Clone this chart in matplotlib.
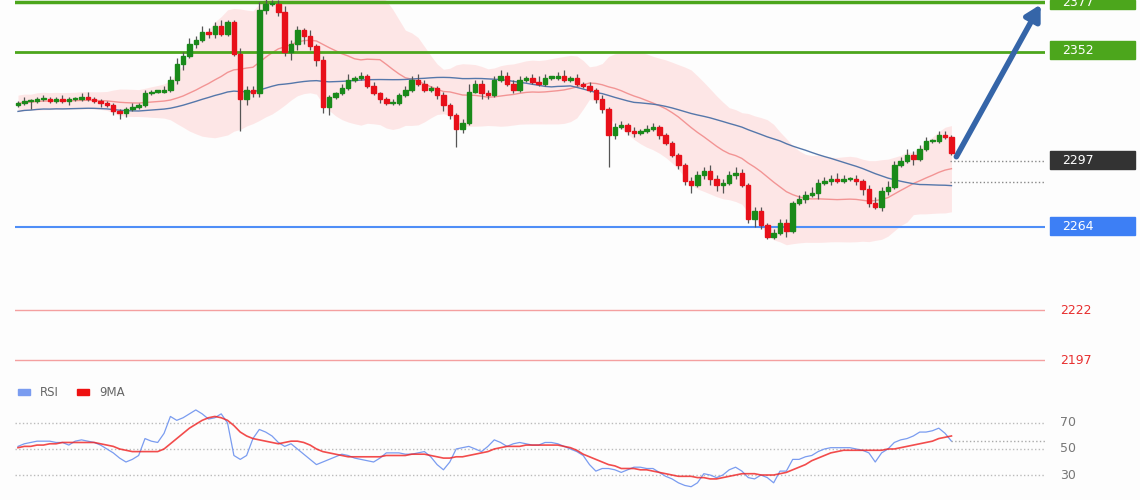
import numpy as np
import pandas as pd
import matplotlib
matplotlib.use('Agg')
import matplotlib.pyplot as plt

# candle closes (open = previous close)
closes = [
    2326, 2327, 2327, 2328, 2328, 2327, 2328, 2327, 2328, 2328,
    2329, 2328, 2327, 2326, 2325, 2322, 2321, 2323, 2324, 2325,
    2331, 2332, 2332, 2333, 2338, 2346, 2350, 2356, 2358, 2362,
    2361, 2365, 2361, 2367, 2351, 2328, 2333, 2331, 2373, 2376,
    2376, 2372, 2352, 2356, 2363, 2360, 2355, 2348, 2324, 2329,
    2331, 2334, 2338, 2339, 2340, 2335, 2331, 2328, 2326, 2326,
    2330, 2333, 2338, 2336, 2333, 2334, 2330, 2325, 2320, 2313,
    2316, 2332, 2336, 2331, 2330, 2338, 2340, 2336, 2333, 2338,
    2339, 2337, 2336, 2339, 2339, 2340, 2338, 2339, 2336, 2335,
    2333, 2328, 2323, 2310, 2314, 2315, 2312, 2311, 2312, 2313,
    2314, 2310, 2306, 2300, 2295, 2287, 2285, 2290, 2292, 2288,
    2285, 2286, 2290, 2291, 2285, 2268, 2272, 2265, 2259, 2261,
    2266, 2262, 2276, 2278, 2280, 2281, 2286, 2287, 2288, 2287,
    2288, 2288, 2287, 2283, 2276, 2274, 2282, 2284, 2295, 2297,
    2300, 2298, 2303, 2307, 2307, 2310, 2309, 2301,
]
upper_wick = [
    1, 2, 1, 1, 2, 1, 1, 2, 1, 1, 2, 3, 1, 1, 1, 1, 1, 1, 2, 1,
    2, 1, 1, 2, 2, 3, 2, 3, 2, 3, 2, 2, 3, 1, 1, 3, 2, 2, 4, 3,
    2, 2, 3, 2, 2, 1, 3, 1, 2, 1, 1, 2, 3, 1, 2, 1, 2, 1, 1, 2,
    1, 2, 2, 3, 2, 1, 1, 2, 1, 1, 2, 4, 2, 2, 2, 2, 3, 2, 2, 2,
    1, 2, 3, 2, 1, 2, 3, 1, 2, 1, 2, 1, 2, 1, 2, 2, 1, 2, 1, 2,
    2, 1, 1, 1, 1, 1, 2, 2, 2, 3, 2, 2, 2, 3, 2, 1, 2, 2, 1, 2,
    2, 2, 1, 2, 2, 3, 2, 2, 2, 3, 2, 1, 2, 1, 2, 3, 2, 3, 2, 2,
    3, 2, 2, 2, 1, 2, 2, 1,
]
lower_wick = [
    1, 1, 4, 1, 1, 1, 1, 1, 2, 1, 1, 1, 1, 2, 1, 2, 3, 2, 1, 1,
    1, 1, 1, 1, 1, 2, 3, 1, 2, 1, 2, 2, 1, 1, 1, 16, 3, 2, 2, 2,
    1, 2, 2, 4, 3, 4, 2, 3, 3, 4, 1, 1, 1, 1, 1, 1, 1, 2, 1, 1,
    1, 1, 1, 1, 1, 1, 2, 3, 2, 9, 2, 1, 1, 3, 2, 1, 1, 1, 2, 1,
    1, 1, 1, 1, 1, 1, 1, 1, 1, 1, 1, 2, 2, 16, 2, 1, 2, 2, 1, 1,
    1, 2, 1, 1, 2, 2, 4, 1, 2, 3, 3, 4, 1, 2, 1, 2, 4, 2, 1, 1,
    1, 3, 1, 1, 2, 1, 3, 1, 2, 1, 1, 1, 2, 3, 2, 1, 2, 2, 1, 1,
    1, 3, 1, 1, 1, 1, 1, 1,
]

# RSI and its 9-period MA, read per bar from the lower panel
rsi = [
    52, 54, 55, 56, 56, 56, 55, 55, 53, 56,
    57, 56, 55, 53, 50, 47, 43, 40, 42, 45,
    58, 56, 55, 62, 75, 72, 74, 77, 80, 77,
    73, 74, 77, 70, 45, 42, 45, 58, 65, 63,
    60, 55, 52, 54, 50, 46, 42, 38, 40, 42,
    44, 46, 45, 43, 42, 41, 40, 43, 47, 47,
    47, 46, 46, 47, 48, 44, 38, 34, 40, 50,
    51, 52, 50, 48, 52, 57, 55, 52, 54, 55,
    54, 53, 53, 55, 55, 54, 52, 50, 48, 45,
    38, 33, 35, 35, 34, 32, 34, 36, 36, 35,
    35, 32, 29, 27, 24, 22, 21, 24, 31, 30,
    28, 30, 34, 36, 33, 28, 27, 30, 28, 24,
    33, 33, 42, 42, 44, 45, 48, 50, 51, 51,
    51, 51, 50, 49, 47, 40, 47, 50, 55, 57,
    58, 60, 63, 63, 64, 66, 62, 56,
]
rsi_ma = [
    51, 52, 52, 53, 53, 54, 54, 55, 55, 55,
    55, 55, 55, 54, 53, 52, 50, 49, 48, 48,
    48, 48, 48, 50, 54, 58, 62, 66, 69, 72,
    74, 75, 74, 72, 68, 63, 60, 58, 57, 56,
    55, 54, 55, 56, 56, 55, 53, 50, 48, 47,
    46, 45, 44, 44, 44, 44, 44, 44, 45, 45,
    45, 45, 46, 46, 46, 45, 44, 43, 43, 44,
    44, 45, 46, 47, 48, 50, 51, 52, 52, 52,
    53, 53, 53, 53, 53, 53, 52, 51, 49, 46,
    44, 42, 40, 38, 37, 35, 35, 35, 34, 34,
    33, 32, 31, 30, 29, 29, 29, 28, 28, 27,
    27, 28, 29, 30, 31, 31, 31, 30, 30, 30,
    31, 32, 34, 36, 38, 41, 43, 45, 47, 48,
    49, 49, 49, 49, 49, 49, 49, 50, 50, 51,
    52, 53, 54, 55, 56, 58, 59, 60,
]

levels = [2377, 2352, 2297, 2264, 2222, 2197]
level_text = ['2377', '2352', '2297', '2264', '2222', '2197']
ma_level = 2286.5
rsi_ticks = [30, 50, 70]

df = pd.DataFrame({'close': closes})
df['open'] = df['close'].shift(1).fillna(df['close'][0] - 1)
df['high'] = df[['open', 'close']].max(axis=1) + upper_wick
df['low'] = df[['open', 'close']].min(axis=1) - lower_wick
ma20 = df['close'].rolling(20, min_periods=1).mean()
std20 = df['close'].rolling(20, min_periods=2).std().bfill()
ma50 = df['close'].rolling(50, min_periods=1).mean() - 4
bb_up = ma20 + 1.7 * std20 + 3
bb_dn = ma20 - 1.7 * std20 - 3

W, H = 1140, 500
fig = plt.figure(figsize=(11.4, 5), dpi=100)
fig.patch.set_facecolor('#fdfdfd')


def to_i(px):
    return (px - 18) / 6.35


xl = (to_i(15), to_i(1045))
ax = fig.add_axes([15 / W, 130 / H, 1030 / W, 370 / H])
ax.set_xlim(*xl)
ax.set_ylim(2192, 2378)
ax.axis('off')

x = np.arange(len(df))
ax.fill_between(x, bb_dn, bb_up, color='#ffcccc', alpha=0.45, lw=0, zorder=1)
ax.plot(x, ma20, color='#f08080', lw=1, alpha=0.8, zorder=2)
ax.plot(x, ma50, color='#5577aa', lw=1, zorder=2)

for i, r in df.iterrows():
    up = r['close'] >= r['open']
    col = '#1a8a1a' if up else '#e8101a'
    ax.vlines(i, r['low'], r['high'], color='#555555', lw=0.9, zorder=3)
    lo = min(r['open'], r['close'])
    h = max(abs(r['close'] - r['open']), 0.6)
    ax.add_patch(plt.Rectangle((i - 0.35, lo), 0.7, h, color=col, zorder=4))

ax.axhline(levels[0], color='#4ca61c', lw=2.5, zorder=2)
ax.axhline(levels[1], color='#4ca61c', lw=2, zorder=2)
ax.axhline(levels[3], color='#4f8ef7', lw=1.5, zorder=2)
ax.axhline(levels[4], color='#f4a0a0', lw=1, zorder=2)
ax.axhline(levels[5], color='#f4a0a0', lw=1, zorder=2)
ax.plot([to_i(950), xl[1]], [levels[2], levels[2]], ls=':', color='#888888', lw=1)
ax.plot([to_i(950), xl[1]], [ma_level, ma_level], ls=':', color='#888888', lw=1)

ax.annotate('', xy=(to_i(1042), 2377), xytext=(to_i(955), 2298),
            arrowprops=dict(arrowstyle='-|>,head_width=0.5,head_length=0.9',
                            color='#3565a8', lw=4), zorder=6)

# price tags on the right
box_cols = ['#4ca61c', '#4ca61c', '#333333', '#3d7ff5', None, None]
for lv, txt, bc in zip(levels, level_text, box_cols):
    ypx = 50 + (2352 - lv) * 2
    if bc:
        top = max(ypx - 9, 0)
        fig.patches.append(plt.Rectangle((1050 / W, 1 - (ypx + 9) / H), 85 / W, (ypx + 9 - top) / H,
                                         transform=fig.transFigure, color=bc, zorder=6))
        fig.text(1062 / W, 1 - max(ypx, 2) / H, txt, ha='left', va='center', color='white',
                 fontsize=9, zorder=7)
    else:
        fig.text(1060 / W, 1 - ypx / H, txt, ha='left', va='center', color='#e83030', fontsize=9)

# RSI panel
ax2 = fig.add_axes([15 / W, 0, 1030 / W, 120 / H])
ax2.set_xlim(*xl)
ax2.set_ylim(10.8, 103)
ax2.axis('off')
for t in rsi_ticks:
    ax2.axhline(t, color='#bbbbbb', ls=':', lw=1)
    ax2.text(to_i(1060), t, str(t), ha='left', va='center', color='#777777', fontsize=9,
             clip_on=False)
ax2.plot(x, rsi, color='#7a9cf0', lw=0.9)
ax2.plot(x, rsi_ma, color='#f02020', lw=1.2, alpha=0.8)
ax2.plot([x[-1], xl[1]], [rsi[-1]] * 2, color='#aaaaaa', ls=':', lw=1)

fig.patches.append(plt.Rectangle((18 / W, 1 - 395 / H), 12 / W, 6 / H,
                                 transform=fig.transFigure, color='#7a9cf0'))
fig.text(40 / W, 1 - 392 / H, 'RSI', va='center', fontsize=8.5, color='#666666')
fig.patches.append(plt.Rectangle((77 / W, 1 - 395 / H), 12 / W, 6 / H,
                                 transform=fig.transFigure, color='#ee1111'))
fig.text(99 / W, 1 - 392 / H, '9MA', va='center', fontsize=8.5, color='#666666')

fig.savefig('out.png', dpi=100, facecolor=fig.get_facecolor())
